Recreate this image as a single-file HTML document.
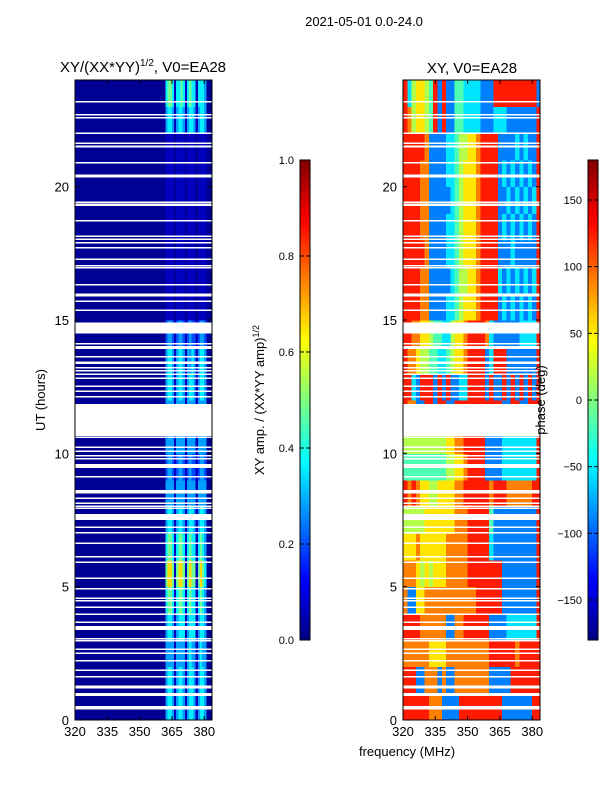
<!DOCTYPE html>
<html><head><meta charset="utf-8"><style>
body{margin:0;background:#fff;}
svg text{font-family:"Liberation Sans",sans-serif;fill:#000;}
</style></head><body>
<svg id="fig" width="600" height="800" viewBox="0 0 600 800" xmlns="http://www.w3.org/2000/svg">
<rect width="600" height="800" fill="#fff"/>
<text x="364" y="26" font-size="13" text-anchor="middle">2021-05-01 0.0-24.0</text>
<text x="143" y="72" font-size="15" text-anchor="middle">XY/(XX*YY)<tspan font-size="10" dy="-6">1/2</tspan><tspan dy="6">, V0=EA28</tspan></text>
<text x="472" y="73" font-size="15" text-anchor="middle">XY, V0=EA28</text>
<g id="ampPanel"></g>
<g id="phPanel"></g>
<g id="cb1"></g>
<g id="cb2"></g>
<text transform="translate(45,400) rotate(-90)" font-size="13" text-anchor="middle">UT (hours)</text>
<text x="407" y="756" font-size="13" text-anchor="middle">frequency (MHz)</text>
<text transform="translate(264,400) rotate(-90)" font-size="13" text-anchor="middle">XY amp. / (XX*YY amp)<tspan font-size="9" dy="-5">1/2</tspan></text>
<text transform="translate(545,400) rotate(-90)" font-size="13" text-anchor="middle">phase (deg)</text>
</svg>
<script>
// ---- data ----
const hours=[0,1,2,3,4,5,6,7,8,9,10,11,12,13,14,15,16,17,18,19,20,21,22,23];
// phase channels (2 MHz)
const freqStart=[320,322,324,326,328,330,332,334,336,338,340,342,344,346,348,350,352,354,356,358,360,362,364,366,368,370,372,374,376,378,380,382];
// amplitude channels (1 MHz) for 360..383; below 360 dark
const ampFreqStart=[360,361,362,363,364,365,366,367,368,369,370,371,372,373,374,375,376,377,378,379,380,381,382,383];
const ampRows=[
"003443134431344313443000","003443134431344313443000","003333133331343313433000",
"003443134441344413443000","004554145541454414543000","005665156651565515654000",
"004554145541454414543000","003443134431344313443000","003333133331333313333000",
"002332123321232212332000","003333133331333313333000","003333133331333313333000",
"003443134431344313443000","003443134431334313443000","002332123321232212332000",
"001111011110111101111000","001111011110111101111000","001111011110111101111000",
"001111011110111101111000","001111011110111101111000","001111011110111101111000",
"001111011110111101111000","003443134431344313443000","004554144541454414443000"];
// phase levels 0..9 -> -180..180
const phRows=[
"88888877722228888888888222222288","88822777272277777777222228888888","77777766667777777777888888788888",
"88887777772277888888222233333338","72266777777777777888888222222228","77765656667777788888888222222228",
"66676666667777788888322222222228","55555666666677788888422222222228","87876655666677888888788877777788",
"44444444445566788882222333333338","55555555556677888882222333333338","87722882882288888888888228822888",
"88328882828223388882822828282828","87765544334566788882388822222228","88776654433566788887322222233338",
"88887722223345666788882323232328","88887722222345566788883232323238","88888722223345666788882223222228",
"88887722223345666788882323232328","88887722222345666788882232323238","88887722223345666788882323232328",
"88888722223345566788882222323228","87566548282244333322233322222228","83566548282244333322288888888882"];
// flagged (white) time ranges in hours
const gaps=[[23.15,23.22],[22.68,22.73],[22.55,22.62],[21.98,22.03],[21.6,21.65],[21.47,21.55],[20.87,20.92],[20.35,20.45],
[19.4,19.45],[19.27,19.37],[18.7,18.75],[18.12,18.17],[18.0,18.05],[17.88,17.93],[17.68,17.73],[17.25,17.3],[17.02,17.07],[16.94,16.99],
[16.3,16.35],[15.95,16.0],[15.88,15.93],[15.68,15.73],[15.35,15.4],[14.5,14.9],[14.08,14.13],[13.98,14.03],[13.92,13.96],[13.6,13.65],
[13.35,13.45],[13.18,13.23],[13.08,13.13],[12.95,13.0],[12.8,12.85],[12.5,12.55],[12.3,12.35],[12.1,12.15],[10.65,11.85],[10.58,10.63],
[10.2,10.25],[10.05,10.1],[9.88,9.93],[9.78,9.83],[9.45,9.6],[9.1,9.15],[8.5,8.62],[8.3,8.35],[8.1,8.15],[8.0,8.05],[7.92,7.97],
[7.5,7.72],[7.2,7.25],[7.0,7.05],[6.6,6.65],[6.1,6.15],[5.9,5.95],[5.3,5.35],[4.9,4.95],[4.55,4.6],[4.45,4.5],[4.2,4.25],
[3.95,4.0],[3.65,3.7],[3.38,3.52],[3.02,3.07],[2.95,3.0],[2.63,2.68],[2.48,2.53],[2.2,2.25],[1.85,1.9],[1.6,1.65],[1.25,1.3],
[1.18,1.23],[0.9,1.02],[0.4,0.52]];
const freqTicks=[320,335,350,365,380];
const hourTicks=[0,5,10,15,20];
const ampTicks=[0.0,0.2,0.4,0.6,0.8,1.0];
const phTicks=[-150,-100,-50,0,50,100,150];
// ---- helpers ----
const NS="http://www.w3.org/2000/svg";
function el(tag,attrs,parent){const e=document.createElementNS(NS,tag);for(const k in attrs)e.setAttribute(k,attrs[k]);parent.appendChild(e);return e;}
function jet(v){v=Math.max(0,Math.min(1,v));
 const r=Math.max(0,Math.min(1,Math.min(4*v-1.5,-4*v+4.5)));
 const g=Math.max(0,Math.min(1,Math.min(4*v-0.5,-4*v+3.5)));
 const b=Math.max(0,Math.min(1,Math.min(4*v+0.5,-4*v+2.5)));
 return `rgb(${Math.round(r*255)},${Math.round(g*255)},${Math.round(b*255)})`;}
const Y0=720,Y1=80,F0=320,F1=383.6;
function yS(h){return Y0-(h/24)*(Y0-Y1);}
function makeX(x0,x1){return f=>x0+(f-F0)/(F1-F0)*(x1-x0);}
function ampLevel(l){return [0.02,0.06,0.2,0.28,0.36,0.48,0.66,0.8,0.9,0.95][l];}
function panel(gid,x0,x1,cells,namePrefix){
 const g=document.getElementById(gid);const xS=makeX(x0,x1);
 el('clipPath',{id:gid+'clip'},g);
 el('rect',{x:x0,y:Y1,width:x1-x0,height:Y0-Y1},g.lastChild);
 const cg=el('g',{'clip-path':`url(#${gid}clip)`,'shape-rendering':'crispEdges'},g);
 cells(cg,xS);
 gaps.forEach(gp=>{const r=el('rect',{x:x0,y:yS(gp[1]),width:x1-x0,height:Math.max(1.5,yS(gp[0])-yS(gp[1])),fill:'#fff'},cg);
   
   });
 el('rect',{x:x0,y:Y1,width:x1-x0,height:Y0-Y1,fill:'none',stroke:'#000','stroke-width':1},g);
 freqTicks.forEach(f=>{const x=xS(f);
   el('line',{x1:x,x2:x,y1:Y0,y2:Y0-4,stroke:'#000'},g);el('line',{x1:x,x2:x,y1:Y1,y2:Y1+4,stroke:'#000'},g);
   const t=el('text',{x:x,y:Y0+16,'font-size':13,'text-anchor':'middle'},g);t.textContent=f;
   
   });
 hourTicks.forEach(h=>{const y=yS(h);
   el('line',{x1:x0,x2:x0+4,y1:y,y2:y,stroke:'#000'},g);el('line',{x1:x1,x2:x1-4,y1:y,y2:y,stroke:'#000'},g);
   const t=el('text',{x:x0-6,y:y+5,'font-size':13,'text-anchor':'end'},g);t.textContent=h;
   
   });
}
panel('ampPanel',75,212,(cg,xS)=>{
 hours.forEach((h,ri)=>{
  const bg=el('rect',{x:xS(320),y:yS(h+1),width:xS(360)-xS(320)+0.5,height:yS(h)-yS(h+1)+0.5,fill:jet(0.02)},cg);
  
  
  ampFreqStart.forEach((f,ci)=>{
   const r=el('rect',{x:xS(f),y:yS(h+1),width:xS(f+1)-xS(f)+0.5,height:yS(h)-yS(h+1)+0.5,fill:jet(ampLevel(+ampRows[ri][ci]))},cg);
   
   
  });});
},'amp');
panel('phPanel',403,540,(cg,xS)=>{
 hours.forEach((h,ri)=>{freqStart.forEach((f,ci)=>{
   const r=el('rect',{x:xS(f),y:yS(h+1),width:xS(f+2)-xS(f)+0.5,height:yS(h)-yS(h+1)+0.5,fill:jet((+phRows[ri][ci]+0.5)/10)},cg);
   
   
 });});
},'phase');
function colorbar(gid,x0,vmin,vmax,ticks){
 const g=document.getElementById(gid);const top=160,bot=640,w=10;
 for(let i=0;i<240;i++){const y=bot-(i+1)*2;el('rect',{x:x0,y:y,width:w,height:2.5,fill:jet((i+0.5)/240),'shape-rendering':'crispEdges'},g);}
 el('rect',{x:x0,y:top,width:w,height:bot-top,fill:'none',stroke:'#000'},g);
 ticks.forEach(v=>{const y=bot-(v-vmin)/(vmax-vmin)*(bot-top);
  el('line',{x1:x0,x2:x0+4,y1:y,y2:y,stroke:'#000'},g);el('line',{x1:x0+w,x2:x0+w-4,y1:y,y2:y,stroke:'#000'},g);
  const t=el('text',{x:x0-6,y:y+4,'font-size':11,'text-anchor':'end'},g);t.textContent=(vmax<=1?v.toFixed(1):String(v).replace('-','\u2212'));
  
  });
}
colorbar('cb1',300,0,1,ampTicks);
colorbar('cb2',588,-180,180,phTicks);
</script>
</body></html>
